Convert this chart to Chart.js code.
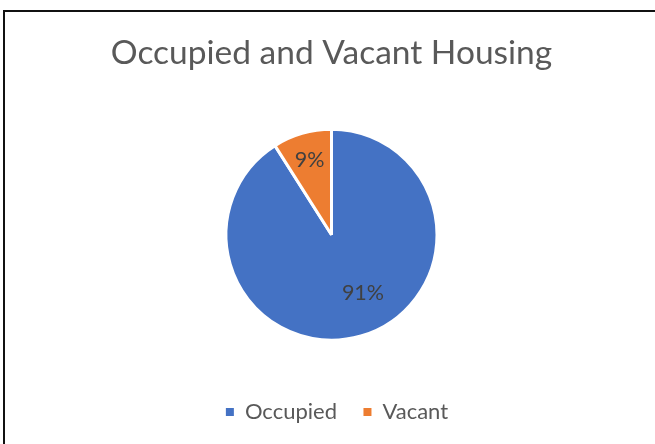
<!DOCTYPE html>
<html>
<head>
<meta charset="utf-8">
<script src="https://cdn.jsdelivr.net/npm/chart.js@4/dist/chart.umd.min.js"></script>
<style>
  html, body { margin: 0; padding: 0; background: #ffffff; overflow: hidden; }
  #wrap { position: relative; width: 655px; height: 444px; }
  #frame { position: absolute; left: 3px; top: 10px; width: 700px; height: 500px;
           border-top: 2px solid #111; border-left: 2px solid #111; box-sizing: border-box; }
  canvas { position: absolute; left: 0; top: 0; }
</style>
</head>
<body>
<div id="wrap">
  <div id="frame"></div>
  <canvas id="c" width="655" height="444"></canvas>
</div>
<script>
const chartTitle = 'Occupied and Vacant Housing';
const categories = ['Occupied', 'Vacant'];
const shares = [91, 9];
const sliceColors = ['#4472C4', '#ED7D31'];

const pctLabels = {
  id: 'pctLabels',
  afterDatasetsDraw(chart, args, opts) {
    const ctx = chart.ctx;
    const meta = chart.getDatasetMeta(0);
    const data = chart.data.datasets[0].data;
    const total = data.reduce((a, b) => a + b, 0);
    ctx.save();
    ctx.font = opts.font;
    ctx.fillStyle = opts.color;
    ctx.textAlign = 'center';
    ctx.textBaseline = 'middle';
    meta.data.forEach((arc, i) => {
      const p = arc.getProps(['x', 'y', 'startAngle', 'endAngle', 'outerRadius'], true);
      const mid = (p.startAngle + p.endAngle) / 2 + (opts.angleShift[i] || 0) * Math.PI / 180;
      const r = p.outerRadius * opts.radiusFrac[i];
      ctx.fillText(Math.round(data[i] / total * 100) + '%', p.x + Math.cos(mid) * r, p.y + Math.sin(mid) * r);
    });
    ctx.restore();
  }
};

const legendShift = {
  id: 'legendShift',
  afterLayout(chart, args, opts) {
    if (chart.legend) {
      chart.legend.left += opts.dx;
      chart.legend.right += opts.dx;
    }
  }
};

const basePieLabels = Chart.overrides.pie.plugins.legend.labels.generateLabels;

new Chart(document.getElementById('c'), {
  type: 'pie',
  data: {
    labels: categories,
    datasets: [{
      data: shares,
      backgroundColor: sliceColors,
      borderColor: '#ffffff',
      borderWidth: 3,
      radius: 105.5
    }]
  },
  options: {
    responsive: false,
    devicePixelRatio: 1,
    animation: false,
    layout: { padding: { top: 33, bottom: 11, left: 8, right: 0 } },
    plugins: {
      tooltip: { enabled: false },
      title: {
        display: true,
        text: chartTitle,
        color: '#595959',
        font: { family: 'Lato', size: 33.5, weight: 'normal', lineHeight: 1.2 },
        padding: { top: 0, bottom: 21.7 }
      },
      legend: {
        position: 'bottom',
        labels: {
          color: '#595959',
          font: { family: 'Lato', size: 22 },
          boxWidth: 8,
          boxHeight: 8,
          padding: 26.5,
          generateLabels(chart) {
            return basePieLabels(chart).map(it => Object.assign(it, { lineWidth: 0, strokeStyle: 'rgba(0,0,0,0)' }));
          }
        }
      },
      legendShift: { dx: 5.5 },
      pctLabels: {
        font: '21.5px Lato',
        color: '#404040',
        radiusFrac: [0.625, 0.74],
        angleShift: [-12.3, 0]
      }
    }
  },
  plugins: [pctLabels, legendShift]
});
</script>
</body>
</html>
